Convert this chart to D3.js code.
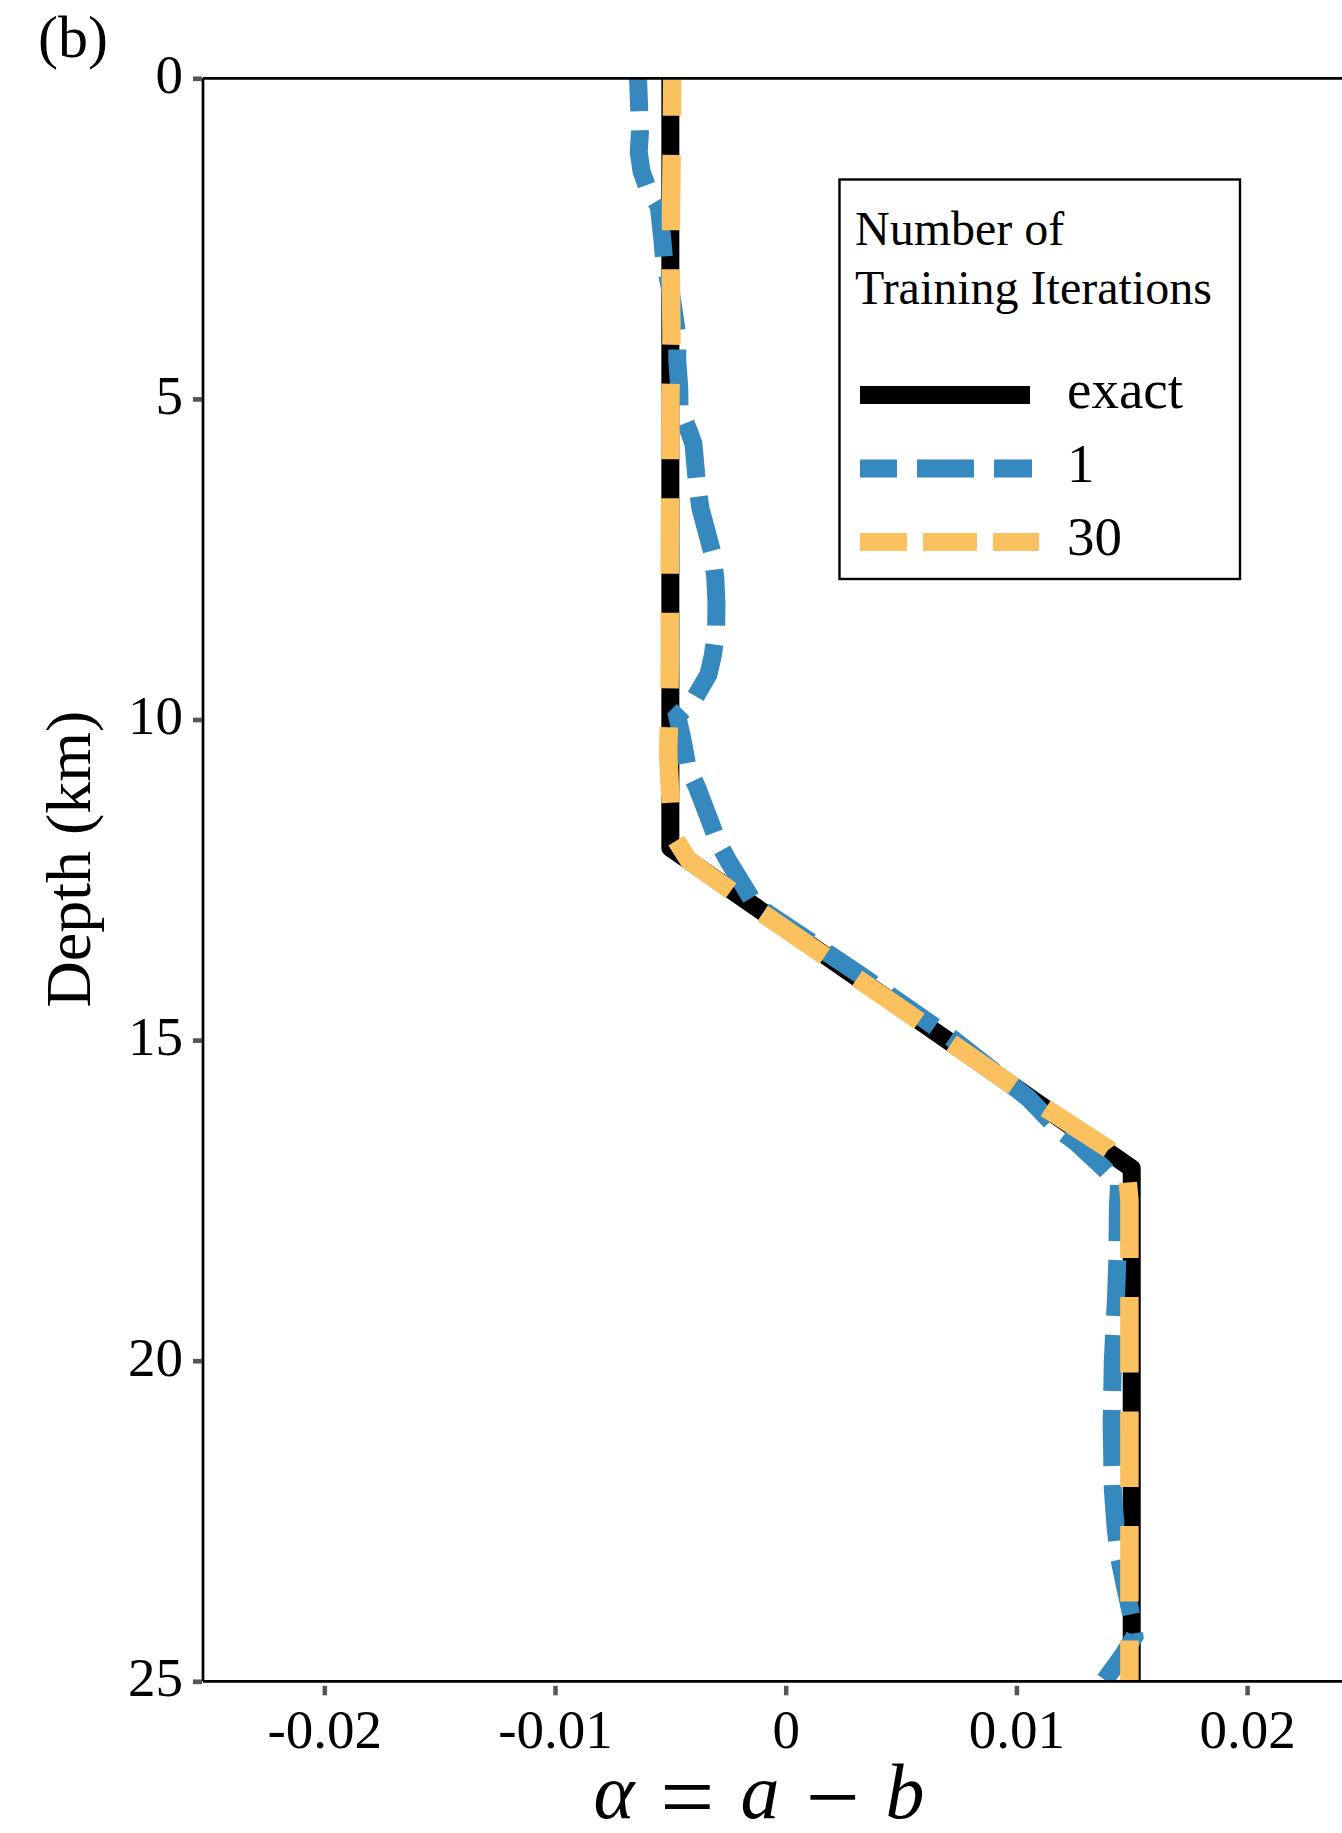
<!DOCTYPE html>
<html>
<head>
    <meta charset="UTF-8">
    <title>alpha depth profile</title>
    <script src="https://d3js.org/d3.v7.min.js"></script>
    <style>
        body { margin: 0; padding: 0; background: #ffffff; }
        svg text { font-family: 'Liberation Serif', 'Times New Roman', serif; fill: #000; }
    </style>
</head>
<body>
    <svg id="chart" width="1342" height="1833"></svg>
    <script>
        // data
        const depthExact = [0, 12, 17, 25];
        const alphaExact = [-0.005, -0.005, 0.015, 0.015];

        const depthIter1 = [0, 0.5, 0.85, 1.15, 1.45, 1.7, 2.0, 2.5, 2.8, 3.4, 4.0, 4.4, 4.8, 5.15, 5.5, 5.7, 6.3, 6.7, 7.4, 7.8, 8.2, 8.65, 9.0, 9.3, 9.7, 9.95, 10.3, 10.75, 11.05, 11.9, 12.2, 12.9, 14.0, 15.0, 15.9, 16.35, 16.6, 17.0, 17.25, 17.6, 18.4, 19.0, 20.0, 21.0, 22.0, 22.6, 23.1, 23.5, 24.0, 24.3, 24.6, 25.0];
        const alphaIter1 = [-0.0064, -0.00635, -0.00632, -0.00637, -0.00625, -0.006, -0.0055, -0.00535, -0.00528, -0.00495, -0.0047, -0.0047, -0.00462, -0.0046, -0.0042, -0.004, -0.00385, -0.0037, -0.00318, -0.00305, -0.003, -0.00302, -0.00316, -0.00335, -0.004, -0.0047, -0.00448, -0.00425, -0.00385, -0.00295, -0.0025, -0.0013, 0.0033, 0.0073, 0.0105, 0.0117, 0.0126, 0.0138, 0.01445, 0.0144, 0.01438, 0.01432, 0.01418, 0.01413, 0.01418, 0.0143, 0.01447, 0.0147, 0.015, 0.01512, 0.0146, 0.0138];

        const depthIter30 = [0, 1, 2, 3, 4, 5, 6, 7, 8, 9, 10, 10.5, 11, 11.8, 12.2, 13, 14, 15, 16, 16.7, 17.1, 17.5, 19, 21, 23, 25];
        const alphaIter30 = [-0.00492, -0.00494, -0.00497, -0.00498, -0.00495, -0.005, -0.005, -0.00502, -0.00503, -0.00502, -0.00505, -0.0051, -0.00503, -0.0049, -0.0042, -0.0011, 0.00295, 0.007, 0.011, 0.014, 0.0148, 0.0149, 0.0149, 0.0149, 0.0149, 0.0149];

        const xTicks = [-0.02, -0.01, 0, 0.01, 0.02];
        const xTickLabels = ["-0.02", "-0.01", "0", "0.01", "0.02"];
        const yTicks = [0, 5, 10, 15, 20, 25];

        const seriesNames = ["exact", "1", "30"];
        const seriesColors = ["#000000", "#3689be", "#fac15e"];

        const svg = d3.select("#chart");

        const pLeft = 203, pTop = 78.3, pBottom = 1681.3, pRight = 1362.4;
        const x = d3.scaleLinear().domain([-0.02526, 0.025]).range([pLeft, pRight]);
        const y = d3.scaleLinear().domain([0, 25]).range([pTop, pBottom]);

        svg.append("defs").append("clipPath").attr("id", "plotclip")
            .append("rect")
            .attr("x", pLeft).attr("y", pTop)
            .attr("width", pRight - pLeft).attr("height", pBottom - pTop);

        const line = d3.line().x(d => x(d[1])).y(d => y(d[0]));
        const zip = (a, b) => a.map((v, i) => [v, b[i]]);

        const lines = svg.append("g").attr("clip-path", "url(#plotclip)");
        lines.append("path")
            .attr("d", line(zip(depthExact, alphaExact)))
            .attr("fill", "none").attr("stroke", seriesColors[0])
            .attr("stroke-width", 18).attr("stroke-linejoin", "round");
        lines.append("path")
            .attr("d", line(zip(depthIter1, alphaIter1)))
            .attr("fill", "none").attr("stroke", seriesColors[1])
            .attr("stroke-width", 18)
            .attr("stroke-dasharray", "56,19").attr("stroke-dashoffset", 23);
        lines.append("path")
            .attr("d", line(zip(depthIter30, alphaIter30)))
            .attr("fill", "none").attr("stroke", seriesColors[2])
            .attr("stroke-width", 18.5)
            .attr("stroke-dasharray", "75.5,39").attr("stroke-dashoffset", 38);

        // spines
        const spine = svg.append("g").attr("stroke", "#000").attr("stroke-width", 2.7);
        spine.append("line").attr("x1", pLeft).attr("x2", 1342).attr("y1", pTop).attr("y2", pTop);
        spine.append("line").attr("x1", pLeft).attr("x2", 1342).attr("y1", pBottom).attr("y2", pBottom);
        spine.append("line").attr("x1", pLeft).attr("x2", pLeft).attr("y1", pTop).attr("y2", pBottom);

        // x axis (ticks sit a little below the spine)
        const gx = svg.append("g")
            .attr("transform", `translate(0,${pBottom + 4.5})`)
            .call(d3.axisBottom(x).tickValues(xTicks).tickSize(9.5)
                .tickFormat((d, i) => xTickLabels[i]));
        gx.select(".domain").remove();
        gx.selectAll(".tick line").attr("stroke", "#555").attr("stroke-width", 4.5);
        gx.selectAll(".tick text")
            .attr("y", 62).attr("dy", null)
            .attr("font-size", 55)
            .attr("font-family", "'Liberation Serif', 'Times New Roman', serif");

        // y axis
        const gy = svg.append("g")
            .attr("transform", `translate(${pLeft - 1},0)`)
            .call(d3.axisLeft(y).tickValues(yTicks).tickSize(9).tickFormat(d3.format("d")));
        gy.select(".domain").remove();
        gy.selectAll(".tick line").attr("stroke", "#555").attr("stroke-width", 4.7);
        gy.selectAll(".tick text")
            .attr("x", -19).attr("dy", "0.26em")
            .attr("font-size", 55)
            .attr("font-family", "'Liberation Serif', 'Times New Roman', serif");

        // axis labels
        const xl = svg.append("text")
            .attr("x", 759).attr("y", 1818)
            .attr("text-anchor", "middle")
            .attr("font-size", 78);
        xl.append("tspan").attr("font-style", "italic").text("α");
        xl.append("tspan").attr("dx", 26).attr("dy", 11).attr("font-size", 96).text("=");
        xl.append("tspan").attr("dx", 26).attr("dy", -11).attr("font-style", "italic").text("a");
        xl.append("tspan").attr("dx", 26).attr("dy", 11).attr("font-size", 96).text("−");
        xl.append("tspan").attr("dx", 26).attr("dy", -11).attr("font-style", "italic").text("b");

        svg.append("text")
            .attr("transform", "translate(90,859) rotate(-90)")
            .attr("text-anchor", "middle")
            .attr("font-size", 64)
            .text("Depth (km)");

        svg.append("text")
            .attr("x", 38).attr("y", 57)
            .attr("font-size", 60)
            .text("(b)");

        // legend
        const lg = svg.append("g");
        lg.append("rect")
            .attr("x", 839.5).attr("y", 179.5).attr("width", 400.5).attr("height", 399.5)
            .attr("fill", "#fff").attr("stroke", "#000").attr("stroke-width", 2.4);
        lg.append("text").attr("x", 855).attr("y", 245).attr("font-size", 48).text("Number of");
        lg.append("text").attr("x", 855).attr("y", 304).attr("font-size", 48).text("Training Iterations");

        const legendDash = [null, "57,20", "54,16"];
        const legendOffset = [0, 20, 7];
        const legendEnd = [1030, 1032, 1039];
        seriesNames.forEach((name, i) => {
            const ly = 395 + i * 73.5;
            lg.append("line")
                .attr("x1", 860).attr("x2", legendEnd[i])
                .attr("y1", ly).attr("y2", ly)
                .attr("stroke", seriesColors[i]).attr("stroke-width", 18)
                .attr("stroke-dasharray", legendDash[i])
                .attr("stroke-dashoffset", legendOffset[i]);
            lg.append("text")
                .attr("x", 1067).attr("y", ly + 13)
                .attr("font-size", 55)
                .text(name);
        });
    </script>
</body>
</html>
